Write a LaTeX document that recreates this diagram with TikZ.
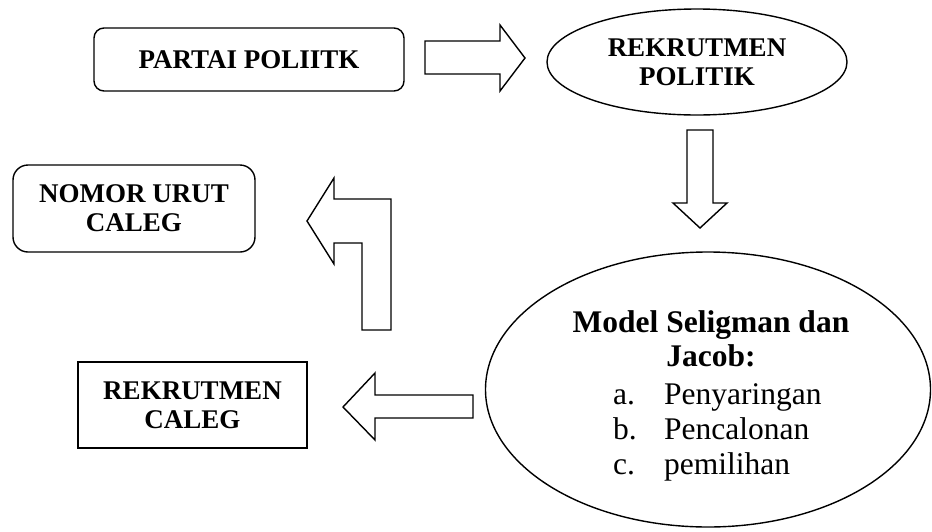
\documentclass[tikz,border=0pt]{standalone}
\usepackage{fontspec}
\setmainfont{Liberation Serif}
\usetikzlibrary{shapes.geometric}
\tikzset{
  lw/.style={line width=1.4pt},
  smalltxt/.style={font=\bfseries\fontsize{27}{29}\selectfont, align=center, inner sep=0pt},
  bigbold/.style={font=\bfseries\fontsize{31.5}{33}\selectfont, inner sep=0pt},
  itemtxt/.style={font=\fontsize{31.5}{34}\selectfont, inner sep=0pt},
  blockarrow/.style={draw, lw, line join=miter, fill=white},
}
\begin{document}
\begin{tikzpicture}[x=1pt,y=-1pt]
\useasboundingbox (0,0) rectangle (932,531);

% nodes
\node[draw, lw, rounded corners=10pt, minimum width=310pt, minimum height=63pt, smalltxt] (partai) at (249,59.5) {PARTAI POLIITK};
\node[draw, lw, ellipse, minimum width=300pt, minimum height=106pt, smalltxt] (rpolitik) at (697,62) {REKRUTMEN\\POLITIK};
\node[draw, lw, rounded corners=15pt, minimum width=242pt, minimum height=87pt, smalltxt] (nomor) at (134,208.5) {NOMOR URUT\\CALEG};
\node[draw, lw, rectangle, minimum width=229pt, minimum height=86pt, smalltxt] (rcaleg) at (192.5,405) {REKRUTMEN\\CALEG};
\node[draw, lw, ellipse, minimum width=445pt, minimum height=275pt, inner sep=0pt] (model) at (708,389.5) {};

% text of the big ellipse
\node[bigbold, anchor=base] (m1) at (711,332) {Model Seligman dan};
\node[bigbold, anchor=base] (m2) at (711,366) {Jacob:};
\node[itemtxt, anchor=base west] (la) at (613,404) {a.};
\node[itemtxt, anchor=base west] (ia) at (664,404) {Penyaringan};
\node[itemtxt, anchor=base west] (lb) at (613,439) {b.};
\node[itemtxt, anchor=base west] (ib) at (664,439) {Pencalonan};
\node[itemtxt, anchor=base west] (lc) at (613,474) {c.};
\node[itemtxt, anchor=base west] (ic) at (664,474) {pemilihan};

% block arrows
\draw[blockarrow] (425,41) -- (500,41) -- (500,25) -- (525,58) -- (500,91) -- (500,74) -- (425,74) -- cycle;
\draw[blockarrow] (687,130) -- (713,130) -- (713,203) -- (727,203) -- (700,228) -- (673,203) -- (687,203) -- cycle;
\draw[blockarrow] (307,221) -- (334,178) -- (334,199) -- (391,199) -- (391,330) -- (362,330) -- (362,243) -- (334,243) -- (334,264) -- cycle;
\draw[blockarrow] (343,407) -- (375,373) -- (375,395) -- (473,395) -- (473,418) -- (375,418) -- (375,440) -- cycle;
\end{tikzpicture}
\end{document}
